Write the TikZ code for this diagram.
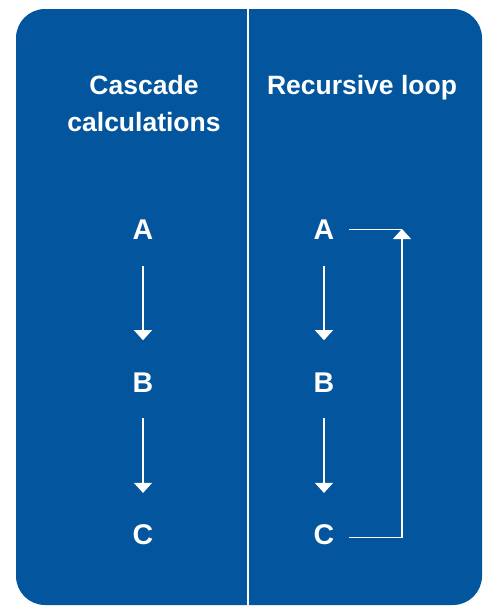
\documentclass[tikz,border=0pt]{standalone}
\usepackage{fontspec}
\setmainfont{Liberation Sans}
\usetikzlibrary{arrows.meta}

\definecolor{panelblue}{RGB}{3,86,157}

\tikzset{
	title/.style={text=white, font=\bfseries\fontsize{26.5}{37}\selectfont, inner sep=0pt, align=center},
	letter/.style={text=white, font=\bfseries\fontsize{28.5}{34}\selectfont, inner sep=0pt, anchor=base},
	flow/.style={draw=white, line width=1.1pt, -{Triangle[width=18pt,length=10pt]}},
	plain/.style={draw=white, line width=1.1pt}
}

\begin{document}
\begin{tikzpicture}[x=1pt,y=-1pt]
	
	\useasboundingbox (0,0) rectangle (486,606);
	\fill[panelblue, rounded corners=29pt] (16,9) rectangle (482,605);
	\draw[white, line width=2pt] (248,9) -- (248,605);
	
	\node[title, anchor=north] (t1) at (144,75) {Cascade\\calculations};
	\node[title, anchor=north] (t2) at (362,75) {Recursive loop};
	
	\node[letter] (A1) at (143,239) {A};
	\node[letter] (B1) at (143,392) {B};
	\node[letter] (C1) at (143,544) {C};
	
	\node[letter] (A2) at (324,239) {A};
	\node[letter] (B2) at (324,392) {B};
	\node[letter] (C2) at (324,544) {C};
	
	\draw[flow, shorten <=27pt, shorten >=32pt] (A1) -- (B1);
	\draw[flow, shorten <=26pt, shorten >=31pt] (B1) -- (C1);
	\draw[flow, shorten <=27pt, shorten >=32pt] (A2) -- (B2);
	\draw[flow, shorten <=26pt, shorten >=31pt] (B2) -- (C2);
	
	% loop back from C to A
	\coordinate (ret) at (402,229);
	\draw[plain] ([xshift=15pt]A2.east) -- (A2.east -| ret);
	\draw[flow] ([xshift=15pt,yshift=-3pt]C2.east) -| (ret);
	
\end{tikzpicture}
\end{document}
